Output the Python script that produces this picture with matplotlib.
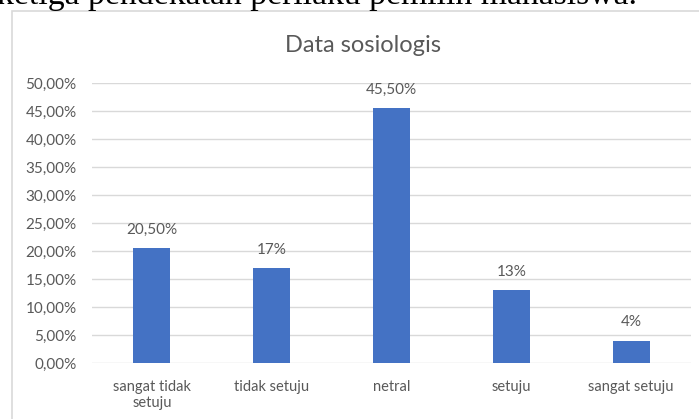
import matplotlib.pyplot as plt
from matplotlib.patches import Rectangle
from matplotlib.ticker import FuncFormatter

# data
categories = ['sangat tidak\nsetuju', 'tidak setuju', 'netral', 'setuju', 'sangat setuju']
values = [0.205, 0.17, 0.455, 0.13, 0.04]
value_labels = ['20,50%', '17%', '45,50%', '13%', '4%']
yticks = [i * 0.05 for i in range(11)]

bar_color = '#4472C4'
text_gray = '#595959'
grid_gray = '#D9D9D9'

plt.rcParams['font.family'] = ['Lato', 'DejaVu Sans']

W, H = 699, 419
fig = plt.figure(figsize=(W / 100, H / 100), dpi=100)

# chart frame (cut off at right and bottom like the screenshot)
fig.patches.append(Rectangle((12 / W, -0.1), 1.2, 1.1 - 11 / H, transform=fig.transFigure,
                             fill=False, edgecolor=grid_gray, linewidth=1.2))

# cropped line of document text above the chart
fig.text(-3 / W, 1 - 4 / H, 'ketiga pendekatan perilaku pemilih mahasiswa.',
         family='Liberation Serif', fontsize=24.3, color='black', va='baseline', ha='left')

ax = fig.add_axes([92 / W, 1 - 363 / H, (691 - 92) / W, (363 - 83) / H])
x = range(len(categories))
bars = ax.bar(x, values, width=0.31, color=bar_color, zorder=3)

for xi, v, lab in zip(x, values, value_labels):
    ax.annotate(lab, (xi, v), xytext=(0, 8), textcoords='offset points',
                ha='center', va='bottom', fontsize=11, color=text_gray)

ax.set_xlim(-0.5, len(categories) - 0.5)
ax.set_ylim(0, 0.5)
ax.set_yticks(yticks)
ax.yaxis.set_major_formatter(FuncFormatter(lambda v, p: f'{v * 100:.2f}%'.replace('.', ',')))
ax.set_xticks(list(x))
ax.set_xticklabels(categories)
ax.tick_params(axis='both', length=0, labelcolor=text_gray)
ax.tick_params(axis='x', pad=12, labelsize=10.5)
ax.tick_params(axis='y', pad=11, labelsize=11)
ax.grid(axis='y', color=grid_gray, linewidth=1, zorder=0)
for s in ax.spines.values():
    s.set_visible(False)

fig.text(363 / W, 1 - 45 / H, 'Data sosiologis', ha='center', va='center',
         fontsize=17, color=text_gray)

fig.savefig('out.png', dpi=100)
